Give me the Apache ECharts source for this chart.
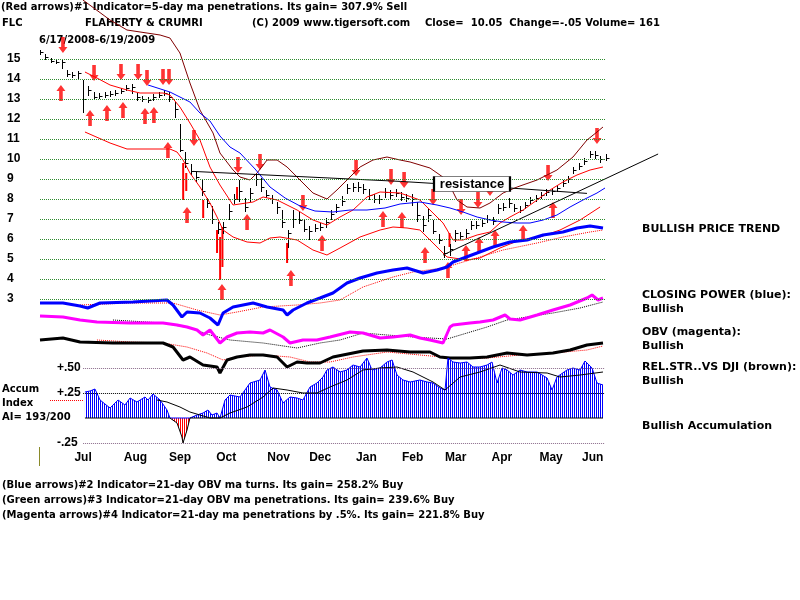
<!DOCTYPE html>
<html>
<head>
<meta charset="utf-8">
<script src="https://cdn.jsdelivr.net/npm/echarts@6/dist/echarts.min.js"></script>
<style>
html, body { margin: 0; padding: 0; background: #fff; }
#main { width: 800px; height: 600px; }
</style>
</head>
<body>
<div id="main"></div>
<script>
// x values are calendar days counted from 6/17/2008 (day 0) to 6/19/2009 (day 367)
var LAST_DAY = 367;
var PRICE_STEP = 3.5; // one price bar every half week

var priceClose = [15.35,15.1,14.9,14.85,14.85,14.25,14.2,14.3,13.0,13.45,
  13.1,13.15,13.2,13.25,13.3,13.4,13.55,13.6,13.1,13.0,
  12.95,13.1,13.2,13.3,13.1,12.5,10.45,9.8,9.4,9.1,
  8.4,7.8,7.0,6.5,6.6,7.4,8.0,8.4,7.6,8.3,
  9.0,8.6,8.2,8.0,7.6,6.85,6.3,7.0,6.95,6.5,
  6.4,6.55,6.6,6.85,7.25,7.6,7.9,8.55,8.6,8.6,
  8.5,8.2,8.0,8.0,8.35,8.2,8.3,8.1,8.05,8.0,
  7.2,6.7,7.2,6.4,5.95,5.3,5.5,6.3,6.15,6.3,
  6.7,6.7,6.8,7.0,6.9,7.55,7.6,7.8,7.55,7.45,
  7.7,7.95,8.05,8.2,8.35,8.4,8.55,8.8,9.0,9.45,
  9.65,9.9,10.25,10.2,10.0,10.05];
var priceHigh = [15.4,15.2,15.0,14.95,14.95,14.4,14.3,14.35,13.9,13.6,
  13.3,13.25,13.3,13.35,13.4,13.5,13.65,13.7,13.25,13.1,
  13.05,13.2,13.3,13.4,13.3,12.8,11.7,10.3,9.7,9.3,
  8.9,8.0,7.6,6.8,6.8,7.7,8.2,8.9,8.0,8.5,
  9.2,9.0,8.4,8.15,7.8,7.4,6.4,7.4,7.3,6.9,
  6.6,6.7,6.75,7.0,7.4,7.7,8.1,8.7,8.75,8.8,
  8.7,8.45,8.2,8.15,8.5,8.4,8.45,8.3,8.2,8.2,
  7.8,7.1,7.45,6.9,6.2,5.6,5.7,6.4,6.3,6.45,
  6.85,6.85,6.95,7.15,7.05,7.7,7.75,8.0,7.7,7.6,
  7.8,8.05,8.15,8.3,8.45,8.5,8.65,8.9,9.1,9.55,
  9.75,10.0,10.35,10.35,10.1,10.2];
var priceLow = [15.25,15.0,14.85,14.8,14.55,14.15,14.1,14.05,12.35,13.2,
  13.0,13.05,13.1,13.15,13.2,13.3,13.45,13.3,12.95,12.9,
  12.85,12.95,13.1,13.2,12.9,12.1,10.4,9.6,9.25,8.9,
  8.2,7.6,6.8,6.3,6.3,7.0,7.8,7.9,7.4,7.9,
  8.7,8.4,8.1,7.8,7.3,6.6,5.6,6.6,6.8,6.4,
  6.0,6.4,6.45,6.6,7.0,7.35,7.7,8.3,8.4,8.4,
  8.3,8.0,7.85,7.8,8.1,8.05,8.15,7.95,7.9,7.7,
  6.9,6.4,6.9,6.3,5.8,5.1,5.2,5.9,6.0,6.1,
  6.5,6.55,6.65,6.85,6.75,7.3,7.45,7.6,7.4,7.35,
  7.55,7.8,7.9,8.05,8.2,8.25,8.4,8.65,8.85,9.3,
  9.5,9.75,10.1,10.05,9.85,9.95];

// [day, low, high]
var redBars = [[93,7.95,9.8],[95,8.4,9.3],[106,7.05,7.95],[115,5.3,6.45],[117,3.95,6.1],
  [118.5,4.6,6.6],[128,7.95,8.6],[160.5,4.8,5.8],[266,5.6,6.3]];

var sellArrows = [[14.9,15.7],[35.1,14.3],[52.6,14.35],[63.7,14.35],[69.5,14.05],[79.9,14.1],
  [83.8,14.1],[100,11.05],[128.6,9.7],[142.9,9.85],[170.8,7.8],[205.3,9.55],[228,9.1],
  [236.5,8.95],[255.3,8.1],[273.5,7.6],[284.5,7.95],[292.3,8.55],[330,9.3],[361.8,11.15]];
var buyArrows = [[13.6,13.3],[32.5,12.05],[43.5,12.3],[53.9,12.45],[68.2,12.15],[74,12.2],
  [83.1,10.45],[95.5,7.2],[118.2,3.35],[134.5,6.85],[163,4.05],[183.2,5.8],[222.8,7.0],
  [235.1,6.95],[250.1,5.2],[265,4.45],[276.7,5.3],[285.2,5.7],[295.6,6.05],[313.8,6.3],[333.2,7.45]];

var outerBand = [[26,18.1],[27.9,17.95],[45.5,16.95],[56.5,16.45],[78,16.2],[84.4,16.05],[90.9,15.3],
  [97.4,13.8],[103.9,12.45],[112.4,11.3],[116.9,10.3],[125.4,9.45],[129.9,9.1],[136.4,8.95],
  [141,9.3],[147.5,9.95],[154,9.95],[160.5,9.6],[168.9,8.95],[177.3,8.3],[186.4,8.0],
  [192.9,8.45],[199.4,8.95],[207.9,9.6],[216.3,9.95],[225.4,10.1],[233.9,9.95],[240.4,9.85],
  [253.3,9.55],[264.4,8.95],[270.9,7.95],[277.4,7.6],[285.8,7.55],[292.3,7.8],[300.8,8.3],
  [309.9,8.6],[322.9,8.95],[335.8,9.45],[346.2,10.1],[355.3,10.95],[361.8,11.35],[365.7,11.6]];
var upperBand = [[29.2,14.35],[37,14.05],[45.5,13.7],[56.5,13.45],[65,13.3],[79.9,13.3],[84.4,13.2],
  [90.9,12.6],[97.4,11.8],[103.9,10.95],[110.4,9.6],[116.9,8.7],[125.4,7.7],[138.4,7.85],
  [144.9,8.1],[154,7.95],[167,7.45],[177.3,6.95],[186.4,6.7],[194.9,7.1],[203.3,7.45],
  [212.4,8.1],[220.9,8.35],[233.9,8.3],[246.8,7.95],[261.8,6.8],[268.3,5.95],[274.8,5.95],
  [283.9,6.2],[292.3,6.35],[298.8,6.8],[305.3,7.1],[313.8,7.45],[322.9,7.95],[331.3,8.45],
  [339.7,8.85],[348.8,9.2],[357.3,9.45],[365.7,9.6]];
var lowerBand = [[29.2,11.35],[45.5,10.8],[56.5,10.5],[84.4,10.5],[89,10.35],[92.9,9.95],[97.4,9.3],
  [103.9,8.6],[110.4,7.8],[115,7.1],[118.9,6.45],[125.4,6.1],[134.5,5.85],[142.9,5.8],
  [149.4,6.05],[155.9,6.1],[167,5.95],[177.3,5.45],[186.4,5.2],[194.9,5.55],[207.9,6.1],
  [220.9,6.45],[229.3,6.6],[238.4,6.55],[246.8,6.45],[255.3,5.8],[264.4,5.1],[277.4,4.95],
  [285.8,5.05],[298.8,5.55],[311.8,5.95],[324.8,6.1],[337.8,6.45],[350.8,6.95],[363.8,7.6]];
var blueMa = [[70.2,13.7],[84.4,13.35],[97.4,12.85],[103.9,12.3],[110.4,11.9],[116.9,11.15],
  [123.4,10.6],[129.9,10.3],[139.7,9.5],[149.4,8.6],[159.2,8.05],[168.9,7.65],[178.6,7.4],
  [190.3,7.35],[201.4,7.45],[212.4,7.45],[224.1,7.55],[233.9,7.75],[246.8,7.85],[257.9,7.7],
  [266.3,7.55],[274.8,7.35],[283.9,7.1],[292.3,6.95],[300.8,6.85],[309.9,6.8],[318.3,6.8],
  [326.8,6.95],[335.8,7.2],[344.3,7.6],[352.7,7.95],[361.8,8.3],[367,8.55]];
var resistanceLine = [[99.4,9.38],[168.9,9.12],[233.9,8.88],[305.3,8.55],[355.3,8.28]];
var trendLine = [[261.8,5.2],[401.5,10.25]];
var resistanceTag = [280.6, 8.75];

// oscillator panel, normalised units 0..100
var closingPower = [[0,48.5],[14.9,48.5],[26,47],[31,46],[39,48.5],[60.4,49],[82.5,50],[86.4,47.5],
  [92.2,41.5],[95.5,44],[103.9,43.5],[110.4,41],[115.6,37.5],[118.9,43.5],[125.4,46.5],
  [138.4,48.5],[147.5,46.5],[157.9,45],[160.5,42.5],[164.4,45],[173.4,48.5],[181.9,51],
  [190.3,53.5],[199.4,58.5],[207.9,61],[218.9,63.5],[229.3,65],[238.4,66],[248.8,63.5],
  [257.9,65],[264.4,66.5],[268.3,69],[283.9,73.5],[294.3,76.5],[305.3,79],[316.4,80],
  [326.8,82.5],[339.7,84],[348.8,86],[357.3,87],[365.7,86]];
var closingPowerMa = [[26,47.5],[58.5,48.5],[86.4,48.5],[102,45],[116.9,42.5],[128,44],[144.9,46.5],
  [167,47.5],[181.9,48.5],[194.9,50],[209.8,56.5],[229.3,61.5],[242.3,64],[261.8,66],
  [279.3,70],[300.8,75],[322.9,78.5],[339.7,81.5],[357.3,84],[365.7,85]];
var obv = [[0,42],[14.9,41.5],[26,40],[37,39],[58.5,38.5],[79.9,38.5],[89,37.5],[95.5,36.5],
  [102,35],[105.9,32.5],[110.4,35],[116.9,28.5],[121.5,31.5],[128,33.5],[136.4,34],
  [144.9,33.5],[149.4,35],[157.9,31.5],[162.4,28.5],[170.8,30],[179.9,30],[188.4,31.5],
  [201.4,34],[209.8,33.5],[220.9,31],[229.3,31.5],[240.4,32.5],[246.8,31],[253.3,30],
  [261.8,28.5],[266.3,36.5],[268.3,37.5],[279.3,38.5],[285.8,39],[294.3,40],[302.1,42.5],
  [305.3,40.5],[311.8,40],[322.9,42.5],[333.2,45],[344.3,47.5],[355.3,51],[358.6,52.5],
  [362.5,50],[365.7,51]];
var obvMa = [[47.4,40],[79.9,38.5],[97.4,36],[110.4,32.5],[123.4,30],[144.9,28.5],[167,26],
  [181.9,28.5],[194.9,30],[209.8,33.5],[225.4,32.5],[242.3,31.5],[264.4,30.5],[277.4,33.5],
  [290.4,36.5],[303.4,40],[316.4,41.5],[333.2,43.5],[350.8,46],[365.7,49]];
var relStr = [[0,30],[14.9,31],[26,29],[47.4,28.5],[79.9,28.5],[86.4,26.5],[92.9,20],[97.4,21.5],
  [105.9,17.5],[115,16.5],[116.9,13.5],[121.5,20],[128,21.5],[136.4,22.5],[144.9,22.5],
  [154,21.5],[160.5,16.5],[167,19],[173.4,18.5],[181.9,18.5],[190.3,21.5],[209.8,24.5],
  [225.4,25],[240.4,24],[253.3,24],[259.8,21.5],[266.3,21],[279.3,21],[290.4,21.5],
  [303.4,23.5],[316.4,22.5],[333.2,23.5],[344.3,25],[355.3,27.5],[365.7,28.5]];
var relStrMa = [[37,30],[58.5,29],[79.9,28.5],[95.5,26.5],[108.5,23.5],[118.9,20],[128,21.5],
  [144.9,22.5],[162.4,21.5],[175.4,19],[188.4,19],[203.3,21.5],[225.4,24],[246.8,22.5],
  [268.3,21],[290.4,21],[311.8,22.5],[333.2,23.5],[355.3,25],[365.7,27]];

// accumulation index
var accum = [[29.2,0.26],[32.5,0.27],[35.7,0.29],[39,0.18],[42.2,0.14],[45.5,0.10],[50.7,0.18],
  [55.2,0.13],[58.5,0.20],[63,0.16],[68.2,0.21],[70.2,0.18],[73.4,0.24],[78,0.18],[82.5,0.08],
  [84.4,0.0],[89,-0.05],[92.2,-0.19],[92.9,-0.25],[95.5,-0.12],[97.4,0.0],[102,0.03],
  [105.9,0.05],[109.1,0.08],[111.7,0.03],[115,0.05],[116.9,0.0],[120.2,0.18],[123.4,0.23],
  [129.9,0.21],[136.4,0.35],[142.9,0.38],[146.2,0.48],[149.4,0.31],[154,0.28],[157.9,0.15],
  [162.4,0.21],[167,0.20],[170.8,0.18],[175.4,0.31],[179.9,0.35],[183.8,0.41],[186.4,0.48],
  [190.3,0.51],[194.9,0.46],[199.4,0.48],[203.3,0.53],[207.9,0.51],[212.4,0.60],[215.7,0.48],
  [220.9,0.50],[225.4,0.56],[228.7,0.58],[231.9,0.43],[235.8,0.38],[240.4,0.36],[246.8,0.38],
  [251.4,0.36],[255.3,0.35],[259.8,0.30],[263.1,0.28],[265,0.60],[268.3,0.56],[272.9,0.55],
  [277.4,0.56],[281.3,0.51],[285.8,0.51],[290.4,0.53],[293.6,0.56],[296.9,0.35],[300.1,0.50],
  [303.4,0.48],[307.3,0.43],[311.8,0.48],[316.4,0.46],[322.9,0.46],[329.4,0.40],[332.6,0.28],
  [335.8,0.41],[342.3,0.48],[346.2,0.50],[350.8,0.48],[354,0.57],[358.6,0.50],[361.8,0.35],
  [365.7,0.33]];
var accumMa = [[76,0.18],[82.5,0.16],[90.9,0.11],[97.4,0.06],[103.9,0.03],[110.4,0.0],[116.9,0.0],
  [123.4,0.05],[134.5,0.11],[144.9,0.21],[151.4,0.30],[160.5,0.28],[170.8,0.25],[179.9,0.25],
  [188.4,0.31],[199.4,0.38],[209.8,0.48],[220.9,0.50],[231.9,0.51],[242.3,0.46],[255.3,0.36],
  [263.1,0.28],[272.9,0.41],[285.8,0.46],[298.8,0.53],[311.8,0.46],[329.4,0.45],[337.8,0.41],
  [350.8,0.43],[365.7,0.46]];

var priceTicks = [3,4,5,6,7,8,9,10,11,12,13,14,15];
var monthDays = [28,62,91,121,155,182,212,242,270,300,332,359];
var monthNames = ['Jul','Aug','Sep','Oct','Nov','Dec','Jan','Feb','Mar','Apr','May','Jun'];

var PLOT_LEFT = 40, PLOT_W = 565, GRID_W = 620;
var MAX_DAY = LAST_DAY * GRID_W / PLOT_W;
var FONT = '"Liberation Sans", Arial, sans-serif';
var TEXT_FONT = '"DejaVu Sans", Verdana, sans-serif';

var chart = echarts.init(document.getElementById('main'), null, {renderer: 'canvas'});

function stripes(color) {
    var c = document.createElement('canvas');
    c.width = 2;
    c.height = 2;
    var g = c.getContext('2d');
    g.fillStyle = color;
    g.fillRect(0, 0, 1, 2);
    return c;
}

function priceData() {
    var out = [];
    for (var i = 0; i < priceClose.length; i++) {
        out.push([i * PRICE_STEP, priceLow[i], priceHigh[i], priceClose[i]]);
    }
    return out;
}

function renderBar(params, api) {
    var x = api.value(0);
    var lo = api.coord([x, api.value(1)]);
    var hi = api.coord([x, api.value(2)]);
    var cl = api.coord([x, api.value(3)]);
    var px = Math.round(lo[0]) + 0.5;
    return {
        type: 'group',
        children: [
            {type: 'line', shape: {x1: px, y1: lo[1] + 1, x2: px, y2: hi[1] - 1}, style: {stroke: '#000', lineWidth: 1}},
            {type: 'line', shape: {x1: px, y1: Math.round(cl[1]) + 0.5, x2: px + 3, y2: Math.round(cl[1]) + 0.5}, style: {stroke: '#000', lineWidth: 1}}
        ]
    };
}

function renderRedBar(params, api) {
    var x = api.value(0);
    var lo = api.coord([x, api.value(1)]);
    var hi = api.coord([x, api.value(2)]);
    return {type: 'line', shape: {x1: lo[0], y1: lo[1], x2: hi[0], y2: hi[1]}, style: {stroke: '#ff0000', lineWidth: 2}};
}

function line(name, data, color, width, type, grid) {
    return {
        name: name, type: 'line', data: data, xAxisIndex: grid, yAxisIndex: grid,
        symbol: 'none', smooth: false, silent: true, animation: false,
        lineStyle: {color: color, width: width, type: type || 'solid'}
    };
}

function levelLines(levels, from, to) {
    return levels.map(function (v) {
        return [{coord: [from, v]}, {coord: [to, v]}];
    });
}

var arrowPath = 'path://M5,0L10,6L7,6L7,16L3,16L3,6L0,6Z';

function axisX(grid, showLabels) {
    return {
        type: 'value', gridIndex: grid, min: 0, max: MAX_DAY,
        axisLine: {show: false}, axisTick: {show: false}, splitLine: {show: false},
        axisLabel: showLabels ? {
            customValues: monthDays,
            margin: 9,
            color: '#000', fontWeight: 'bold', fontSize: 12, fontFamily: FONT,
            formatter: function (v) {
                for (var i = 0; i < monthDays.length; i++) {
                    if (Math.abs(monthDays[i] - v) < 0.5) return monthNames[i];
                }
                return '';
            }
        } : {show: false}
    };
}

var outerSeries = line('outer', outerBand, '#800000', 1, 'solid', 0);
outerSeries.markLine = {
    silent: true, symbol: 'none', label: {show: false}, animation: false,
    lineStyle: {color: '#2e8b2e', type: 'dotted', width: 1},
    data: levelLines(priceTicks, 0, LAST_DAY)
};

var resSeries = line('resistance', resistanceLine, '#000', 1, 'solid', 0);
resSeries.markPoint = {
    silent: true, animation: false,
    data: [{
        coord: resistanceTag, symbol: 'rect', symbolSize: [76, 15],
        itemStyle: {color: '#fff', borderColor: '#000', borderWidth: 1},
        label: {show: true, position: 'inside', formatter: 'resistance', color: '#000',
            fontWeight: 'bold', fontSize: 13, fontFamily: FONT}
    }]
};

var accumPos = accum.map(function (p) { return [p[0], Math.max(p[1], 0)]; });
var accumNeg = accum.map(function (p) { return [p[0], Math.min(p[1], 0)]; });

var accumSeries = line('accum', accumPos, '#0000ff', 1, 'solid', 2);
accumSeries.areaStyle = {color: {image: stripes('#0000ff'), repeat: 'repeat'}, opacity: 1};
accumSeries.markLine = {
    silent: true, symbol: 'none', label: {show: false}, animation: false,
    data: [
        [{coord: [28, 0.5], lineStyle: {color: '#8a6a8a', type: 'dotted', width: 1}}, {coord: [LAST_DAY, 0.5]}],
        [{coord: [28, -0.25], lineStyle: {color: '#8a6a8a', type: 'dotted', width: 1}}, {coord: [LAST_DAY, -0.25]}],
        [{coord: [28, 0.25], lineStyle: {color: '#000', type: 'dotted', width: 1}}, {coord: [LAST_DAY, 0.25]}],
        [{coord: [6.5, 0.18], lineStyle: {color: '#ff0000', type: 'dotted', width: 1}}, {coord: [28, 0.18]}]
    ]
};
var accumNegSeries = line('accumNeg', accumNeg, '#000', 1, 'solid', 2);
accumNegSeries.areaStyle = {color: {image: stripes('#ff0000'), repeat: 'repeat'}, opacity: 1};

function txt(x, y, s, size) {
    return {
        type: 'text', x: x, y: y, silent: true,
        style: {text: s, fill: '#000', font: 'bold ' + (size || 10) + 'px ' + TEXT_FONT, textVerticalAlign: 'middle'}
    };
}

var option = {
    animation: false,
    backgroundColor: '#fff',
    grid: [
        {left: PLOT_LEFT, top: 0, width: GRID_W, height: 299},
        {left: PLOT_LEFT, top: 200, width: GRID_W, height: 200},
        {left: PLOT_LEFT, top: 343, width: GRID_W, height: 100}
    ],
    xAxis: [axisX(0, false), axisX(1, false), axisX(2, true)],
    yAxis: [
        {
            type: 'value', gridIndex: 0, min: 3, max: 17.95, interval: 1,
            axisLine: {show: false}, axisTick: {show: false}, splitLine: {show: false},
            axisLabel: {
                align: 'left', margin: 33, color: '#000', fontWeight: 'bold', fontSize: 12, fontFamily: FONT,
                formatter: function (v) { return v <= 15 ? String(v) : ''; }
            }
        },
        {type: 'value', gridIndex: 1, min: 0, max: 100, show: false},
        {
            type: 'value', gridIndex: 2, min: -0.25, max: 0.75, interval: 0.25,
            axisLine: {show: false}, axisTick: {show: false}, splitLine: {show: false},
            axisLabel: {
                inside: true, margin: 17, color: '#000', fontWeight: 'bold', fontSize: 12, fontFamily: FONT,
                formatter: function (v) {
                    if (v === 0.5) return '+.50';
                    if (v === 0.25) return '+.25';
                    if (v === -0.25) return '-.25';
                    return '';
                }
            }
        }
    ],
    series: [
        outerSeries,
        line('upper', upperBand, '#ff0000', 1, 'solid', 0),
        line('lower', lowerBand, '#ff0000', 1, 'solid', 0),
        line('ma', blueMa, '#0000ff', 1, 'solid', 0),
        resSeries,
        line('trend', trendLine, '#000', 1, 'solid', 0),
        {
            type: 'custom', xAxisIndex: 0, yAxisIndex: 0, silent: true, animation: false,
            renderItem: renderRedBar, encode: {x: 0, y: [1, 2]}, data: redBars
        },
        {
            type: 'custom', xAxisIndex: 0, yAxisIndex: 0, silent: true, animation: false,
            renderItem: renderBar, encode: {x: 0, y: [1, 2, 3]}, data: priceData()
        },
        {
            type: 'scatter', xAxisIndex: 0, yAxisIndex: 0, silent: true, animation: false,
            symbol: arrowPath, symbolSize: [9, 16], symbolRotate: 180,
            itemStyle: {color: '#ff0000'}, data: sellArrows
        },
        {
            type: 'scatter', xAxisIndex: 0, yAxisIndex: 0, silent: true, animation: false,
            symbol: arrowPath, symbolSize: [9, 16],
            itemStyle: {color: '#ff0000'}, data: buyArrows
        },
        line('cpMa', closingPowerMa, '#ff0000', 1, 'dotted', 1),
        line('obvMa', obvMa, '#000', 1, 'dotted', 1),
        line('rsMa', relStrMa, '#ff0000', 1, 'dotted', 1),
        line('closingPower', closingPower, '#0000ff', 3, 'solid', 1),
        line('obv', obv, '#ff00ff', 3, 'solid', 1),
        line('relStr', relStr, '#000', 3, 'solid', 1),
        accumSeries,
        accumNegSeries,
        line('accumMa', accumMa, '#000', 1, 'solid', 2)
    ],
    graphic: [
        txt(1, 7, '(Red arrows)#1 Indicator=5-day ma penetrations. Its gain= 307.9% Sell'),
        txt(2, 23, 'FLC'),
        txt(85, 23, 'FLAHERTY & CRUMRI'),
        txt(252, 23, '(C) 2009 www.tigersoft.com'),
        txt(425, 23, 'Close=  10.05  Change=-.05 Volume= 161'),
        txt(39, 40, '6/17/2008-6/19/2009'),
        txt(642, 229, 'BULLISH PRICE TREND', 11),
        txt(642, 295, 'CLOSING POWER (blue):', 11),
        txt(642, 309, 'Bullish', 11),
        txt(642, 332, 'OBV (magenta):', 11),
        txt(642, 346, 'Bullish', 11),
        txt(642, 367, 'REL.STR..VS DJI (brown):', 11),
        txt(642, 381, 'Bullish', 11),
        txt(642, 426, 'Bullish Accumulation', 11),
        txt(2, 389, 'Accum'),
        txt(2, 403, 'Index'),
        txt(2, 417, 'AI= 193/200'),
        txt(2, 485, '(Blue arrows)#2 Indicator=21-day OBV ma turns. Its gain= 258.2% Buy'),
        txt(2, 500, '(Green arrows)#3 Indicator=21-day OBV ma penetrations. Its gain= 239.6% Buy'),
        txt(2, 515, '(Magenta arrows)#4 Indicator=21-day ma penetrations by .5%. Its gain= 221.8% Buy'),
        {type: 'line', silent: true, shape: {x1: 39.5, y1: 447, x2: 39.5, y2: 466}, style: {stroke: '#8a8a2a', lineWidth: 1}}
    ]
};

chart.setOption(option);
</script>
</body>
</html>
